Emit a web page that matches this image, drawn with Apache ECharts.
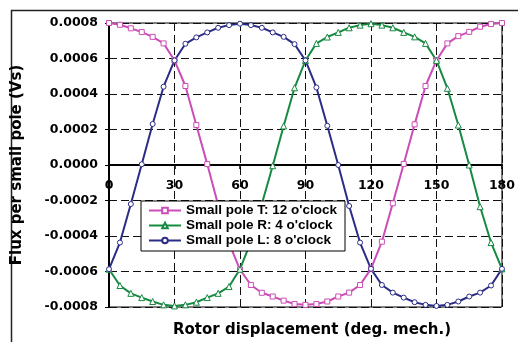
<!DOCTYPE html>
<html>
<head>
<meta charset="utf-8">
<script src="https://cdn.jsdelivr.net/npm/echarts@6/dist/echarts.min.js"></script>
<style>
html,body{margin:0;padding:0;background:#fff;}
#c{width:518px;height:342px;}
</style>
</head>
<body>
<div id="c"></div>
<script>
// Rotor displacement (deg. mech.), every 5 degrees
var angles = [0,5,10,15,20,25,30,35,40,45,50,55,60,65,70,75,80,85,90,95,100,105,110,115,120,125,130,135,140,145,150,155,160,165,170,175,180];
var xTicks = [0,30,60,90,120,150,180];
var yTicks = [-0.0008,-0.0006,-0.0004,-0.0002,0,0.0002,0.0004,0.0006,0.0008];
var seriesNames = ["Small pole T: 12 o'clock","Small pole R: 4 o'clock","Small pole L: 8 o'clock"];
var poleT = [0.000800,0.000790,0.000770,0.000749,0.000722,0.000685,0.000589,0.000445,0.000225,0.000005,-0.000225,-0.000440,-0.000589,-0.000676,-0.000720,-0.000741,-0.000764,-0.000783,-0.000788,-0.000783,-0.000769,-0.000741,-0.000719,-0.000676,-0.000585,-0.000432,-0.000216,0.000006,0.000229,0.000445,0.000589,0.000685,0.000726,0.000750,0.000779,0.000794,0.000800];
var poleR = [-0.000587,-0.000679,-0.000723,-0.000747,-0.000769,-0.000788,-0.000794,-0.000788,-0.000773,-0.000747,-0.000723,-0.000685,-0.000587,-0.000432,-0.000220,-0.000004,0.000220,0.000435,0.000589,0.000685,0.000721,0.000747,0.000773,0.000788,0.000796,0.000788,0.000773,0.000747,0.000722,0.000685,0.000589,0.000432,0.000225,0.000000,-0.000235,-0.000437,-0.000585];
var poleL = [-0.000587,-0.000437,-0.000220,0.000004,0.000231,0.000441,0.000589,0.000683,0.000719,0.000747,0.000773,0.000788,0.000796,0.000788,0.000773,0.000747,0.000722,0.000681,0.000589,0.000437,0.000221,0.000000,-0.000231,-0.000437,-0.000585,-0.000676,-0.000719,-0.000747,-0.000773,-0.000788,-0.000794,-0.000788,-0.000769,-0.000741,-0.000719,-0.000679,-0.000585];

function pairs(vals){ return angles.map(function(a,i){ return [a, vals[i]]; }); }

var colors = ['#CC4DB6','#178A42','#2A2D86'];
var symbols = ['rect','triangle','circle'];
var sizes = [5,6,5];
var dataSets = [poleT, poleR, poleL];

var series = dataSets.map(function(d,i){
  return {
    name: seriesNames[i],
    type: 'line',
    data: pairs(d),
    symbol: symbols[i],
    symbolSize: sizes[i],
    showAllSymbol: true,
    lineStyle: {color: colors[i], width: 2},
    itemStyle: {color: '#fff', borderColor: colors[i], borderWidth: 1},
    emphasis: {disabled: true},
    z: 2,
    zlevel: 0
  };
});

var tickFont = 'DejaVu Sans';
var chart = echarts.init(document.getElementById('c'), null, {renderer: 'canvas'});
chart.setOption({
  animation: false,
  backgroundColor: '#fff',
  grid: {left: 109, top: 23, width: 398, height: 284, show: true, borderColor: '#000', borderWidth: 1, backgroundColor: '#fff'},
  xAxis: {
    type: 'value', position: 'bottom', offset: -142,
    min: xTicks[0], max: xTicks[xTicks.length-1], interval: 30,
    axisLine: {show: true, onZero: false, lineStyle: {color: '#000', width: 2}},
    axisTick: {show: true, length: 4, lineStyle: {color: '#000', width: 1.5}},
    axisLabel: {show: true, margin: 14, color: '#000', fontFamily: tickFont, fontWeight: 'bold', fontSize: 12.5,
      formatter: function(v){ return xTicks.indexOf(v) >= 0 ? String(v) : ''; }},
    splitLine: {show: true, lineStyle: {color: '#111', type: [8,4], width: 1}}
  },
  yAxis: {
    type: 'value', min: yTicks[0], max: yTicks[yTicks.length-1], interval: 0.0002,
    name: 'Flux per small pole (Vs)', nameLocation: 'middle', nameGap: 84,
    nameTextStyle: {color: '#000', fontFamily: tickFont, fontWeight: 'bold', fontSize: 15},
    axisLine: {show: true, onZero: false, lineStyle: {color: '#000', width: 2}},
    axisTick: {show: true, inside: false, length: 4, lineStyle: {color: '#000', width: 1}},
    axisLabel: {margin: 11, color: '#000', fontFamily: tickFont, fontWeight: 'bold', fontSize: 12.5,
      formatter: function(v){ return (Math.abs(v) < 1e-12 ? 0 : v).toFixed(4); }},
    splitLine: {show: true, lineStyle: {color: '#111', type: [8,4], width: 1}}
  },
  legend: {
    show: true, orient: 'vertical', left: 141, top: 201, z: 20,
    padding: [2, 8, 3, 7], itemGap: 0, itemWidth: 32, itemHeight: 7,
    backgroundColor: '#fff', borderColor: '#000', borderWidth: 1,
    textStyle: {color: '#000', fontFamily: 'Liberation Sans', fontWeight: 'bold', fontSize: 13.5, lineHeight: 15},
    data: seriesNames
  },
  graphic: [
    {type: 'rect', left: 9, top: 8, shape: {x: 0, y: 0, width: 700, height: 500}, style: {fill: 'none', stroke: '#222', lineWidth: 1.5}, silent: true, z: -1},
    {type: 'text', x: 312, y: 330, style: {text: 'Rotor displacement (deg. mech.)', align: 'center', verticalAlign: 'middle', fill: '#000', font: 'bold 15px "DejaVu Sans"'}, silent: true}
  ],
  series: series
});
</script>
</body>
</html>
